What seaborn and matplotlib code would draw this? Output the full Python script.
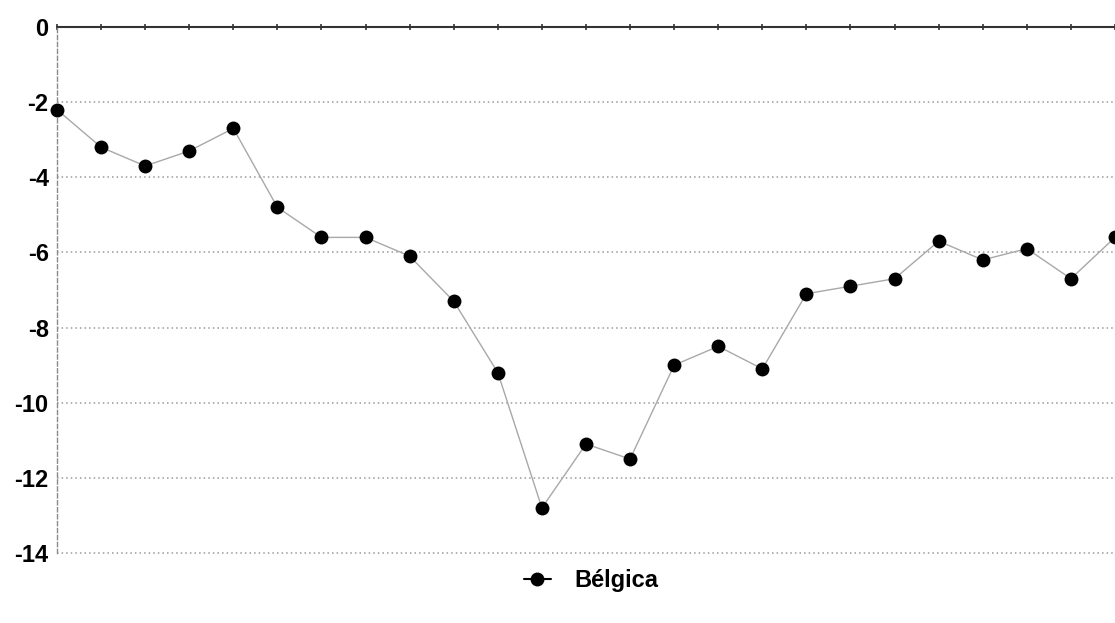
import matplotlib
matplotlib.use("Agg")
import matplotlib.pyplot as plt
from matplotlib.lines import Line2D
import seaborn as sns
import pandas as pd
import numpy as np

# Déficit público de Bélgica (% del PIB), serie anual
periodo = list(range(25))
belgica = [-2.2, -3.2, -3.7, -3.3, -2.7, -4.8, -5.6, -5.6, -6.1, -7.3, -9.2, -12.8,
           -11.1, -11.5, -9.0, -8.5, -9.1, -7.1, -6.9, -6.7, -5.7, -6.2, -5.9, -6.7, -5.6]
y_ticks = [0, -2, -4, -6, -8, -10, -12, -14]
serie = "Bélgica"

df = pd.DataFrame({"periodo": periodo, "valor": belgica})

sns.set_theme(style="white")
plt.rcParams["font.family"] = ["Liberation Sans", "DejaVu Sans"]

fig = plt.figure(figsize=(11.15, 6.23), dpi=100)
ax = fig.add_axes([0.0511, 0.1124, 0.9489, 0.8443])

# Rejilla horizontal punteada
for t in y_ticks[1:]:
    ax.axhline(t, color="#9a9a9a", lw=1.1, ls=(0, (1, 2)), zorder=1, clip_on=False)

# Línea de cero con marcas en cada periodo
ax.axhline(0, color="#333333", lw=1.5, zorder=2, clip_on=False)
ax.plot(periodo, [0] * len(periodo), ls="none", marker="|", ms=5, mew=1.2,
        color="#333333", zorder=2, clip_on=False)

sns.lineplot(data=df, x="periodo", y="valor", color="#a8a8a8", lw=1.0, ax=ax,
             zorder=3, legend=False)
sns.scatterplot(data=df, x="periodo", y="valor", color="black", s=100,
                edgecolor="black", linewidth=0, ax=ax, zorder=4, legend=False,
                clip_on=False)

ax.set_xlim(0, 24)
ax.set_ylim(-14, 0)
ax.set_yticks(y_ticks)
ax.set_yticklabels([str(t) for t in y_ticks], fontsize=17, fontweight="bold",
                   color="black")
ax.set_xticks([])
ax.set_xlabel("")
ax.set_ylabel("")
ax.tick_params(axis="y", length=0, pad=6)

for s in ["top", "right", "bottom"]:
    ax.spines[s].set_visible(False)
ax.spines["left"].set_color("#8a8a8a")
ax.spines["left"].set_linestyle((0, (3, 2)))
ax.spines["left"].set_linewidth(1.0)

handle = Line2D([0], [0], color="black", lw=1.5, marker="o", ms=9)
fig.legend([handle], [serie], loc="center", bbox_to_anchor=(0.530, 0.068),
           frameon=False, prop={"size": 17, "weight": "bold"},
           handlelength=1.15, handletextpad=1.0, labelcolor="black")

fig.savefig("out.png", dpi=100)
